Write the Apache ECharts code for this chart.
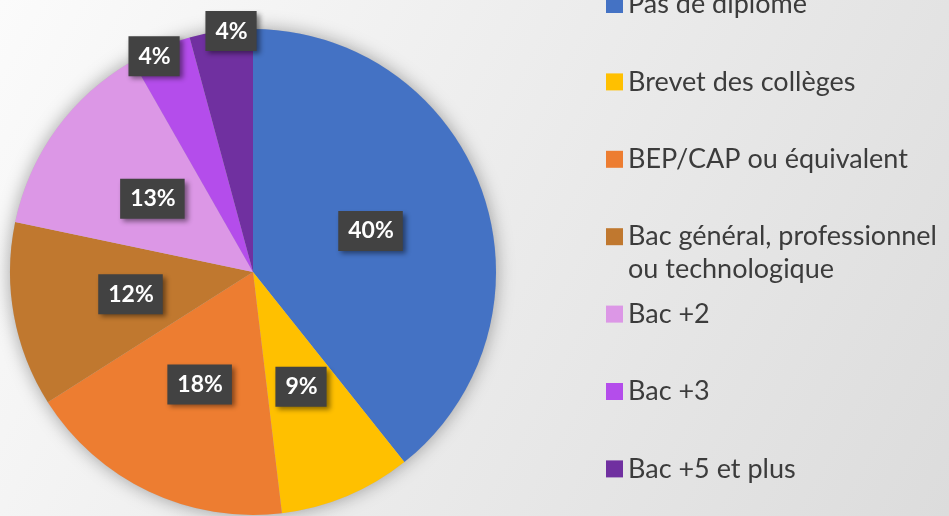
<!DOCTYPE html>
<html>
<head>
<meta charset="utf-8">
<style>
  html, body { margin: 0; padding: 0; }
  #chart { width: 949px; height: 516px; }
</style>
<script src="https://cdn.jsdelivr.net/npm/echarts@6/dist/echarts.min.js"></script>
</head>
<body>
<div id="chart"></div>
<script>
// ===== data =====
const categories = [
  'Pas de diplôme',
  'Brevet des collèges',
  'BEP/CAP ou équivalent',
  'Bac général, professionnel\nou technologique',
  'Bac +2',
  'Bac +3',
  'Bac +5 et plus'
]
// slice sizes (%)
const shares = [39.3, 8.8, 17.9, 12.3, 13.45, 4.05, 4.2]
// labels as printed on the slices
const shareLabels = ['40%', '9%', '18%', '12%', '13%', '4%', '4%']
const colors = ['#4472C4', '#FFC000', '#ED7D31', '#C0782F', '#DC97E6', '#B44DEB', '#7030A0']

// pie geometry
const CX = 253
const CY = 272
const R = 243

// legend rows
const LEGEND_TOP = 4.5
const LEGEND_STEP = 77.4
const LINE_H = 33

const chart = echarts.init(document.getElementById('chart'))

const labelBox = {
  show: true,
  position: 'inside',
  formatter: p => shareLabels[p.dataIndex],
  color: '#fff',
  fontFamily: 'Lato',
  fontWeight: 'bold',
  fontSize: 23,
  lineHeight: 22,
  backgroundColor: '#424242',
  padding: [9, 9, 9, 10],
  shadowColor: 'rgba(0,0,0,0.45)',
  shadowBlur: 5,
  shadowOffsetX: 3,
  shadowOffsetY: 3
}

// one legend per row so the two-line entry keeps its icon on the first line
const legends = categories.map((name, i) => {
  const twoLines = name.indexOf('\n') >= 0
  const mid = LEGEND_TOP + LEGEND_STEP * i
  return {
    orient: 'vertical',
    left: 606,
    top: twoLines ? mid - LINE_H * 1.5 : mid - LINE_H / 2,
    padding: 0,
    itemWidth: 17,
    itemHeight: 17,
    icon: 'rect',
    selectedMode: false,
    // empty first line -> the block is centred on the real first line
    formatter: n => (twoLines ? '\n' + n : n),
    textStyle: {
      fontFamily: 'Lato',
      fontSize: 27,
      lineHeight: LINE_H,
      color: '#3c3c3c'
    },
    data: [name]
  }
})

chart.setOption({
  animation: false,
  backgroundColor: new echarts.graphic.LinearGradient(0, 0, 1, 1, [
    { offset: 0, color: '#fbfbfb' },
    { offset: 1, color: '#dcdcdc' }
  ]),
  legend: legends,
  series: [
    {
      // soft shadow under the pie
      type: 'pie',
      silent: true,
      center: [CX, CY],
      radius: R,
      label: { show: false },
      labelLine: { show: false },
      itemStyle: {
        color: '#bbb',
        shadowBlur: 18,
        shadowColor: 'rgba(0,0,0,0.35)'
      },
      data: [1]
    },
    {
      type: 'pie',
      center: [CX, CY],
      radius: R,
      startAngle: 90,
      clockwise: true,
      avoidLabelOverlap: false,
      emphasis: { disabled: true },
      label: labelBox,
      labelLine: { show: false },
      labelLayout(params) {
        const i = params.dataIndex
        if (shares[i] > 5) return {}
        // small slices: push the label out to the rim, spread the pair apart
        const r = params.labelRect
        const vx = r.x + r.width / 2 - CX
        const vy = r.y + r.height / 2 - CY
        const d = Math.sqrt(vx * vx + vy * vy)
        const target = R * (i === 5 ? 0.96 : 1.0)
        const spread = i === 5 ? -10 : 10
        return { dx: vx / d * (target - d) + spread, dy: vy / d * (target - d) }
      },
      data: categories.map((name, i) => ({
        name,
        value: shares[i],
        itemStyle: { color: colors[i] }
      }))
    }
  ]
})
</script>
</body>
</html>
